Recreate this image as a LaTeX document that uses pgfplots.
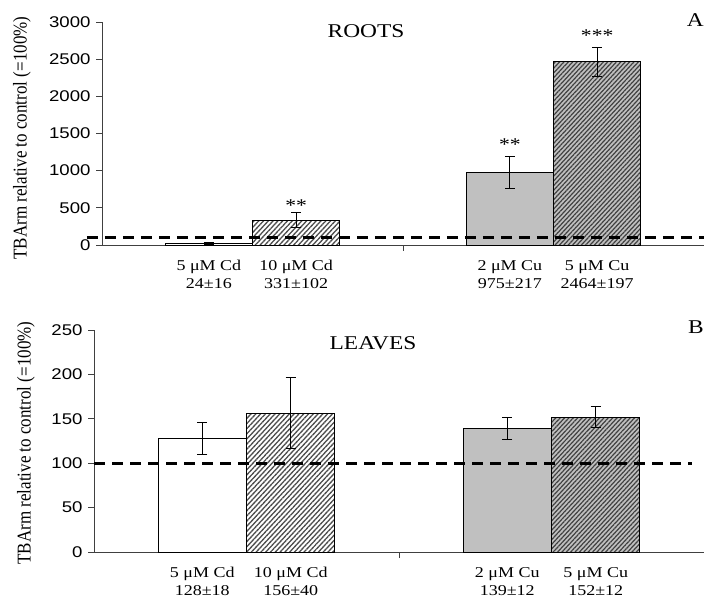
\documentclass[border=0pt]{standalone}
\usepackage{pgfplots}
\pgfplotsset{compat=1.18}
\usetikzlibrary{patterns.meta}
\usepackage{fontspec}
\setmainfont{Liberation Serif}[FakeStretch=1.2]
\newfontfamily\serifplain{Liberation Serif}
\newfontfamily\arial{Liberation Sans}[FakeStretch=1.2]
\definecolor{cugray}{RGB}{192,192,192}
\pgfplotsset{
  panel/.style={
    scale only axis,
    axis x line*=bottom, axis y line*=left,
    axis line style={-, draw=black!75, line width=0.9pt},
    xmin=0, xmax=2,
    xtick={1,2}, xticklabels={},
    tick align=outside,
    major tick length=6pt,
    tick style={draw=black!75, line width=0.9pt},
    yticklabel style={font=\arial\fontsize{15.5}{16}\selectfont, xshift=-2pt},
    /pgf/number format/assume math mode=true,
    /pgf/number format/1000 sep={},
    extra x ticks={0.355,0.645,1.355,1.645},
    extra x tick style={tick style={draw=none},
      xticklabel style={align=center, font=\fontsize{15}{18}\selectfont, yshift=-6pt}},
    clip=false,
  },
  errs/.style={error bars/.cd, y dir=both, y explicit,
    error bar style={line width=1pt, black},
    error mark options={rotate=90, line width=1pt, mark size=5pt, black}},
  barA/.style={ybar, bar width=0.289, bar shift=0pt, draw=black, line width=0.9pt, fill=white, errs},
  barB/.style={ybar, bar width=0.289, bar shift=0pt, draw=black, line width=0.9pt, fill=white,
    postaction={pattern={Lines[angle=47, distance=3.5pt, line width=1.3pt]}, pattern color=black!70}, errs},
  barC/.style={ybar, bar width=0.289, bar shift=0pt, draw=black, line width=0.9pt, fill=cugray, errs},
  barD/.style={ybar, bar width=0.289, bar shift=0pt, draw=black, line width=0.9pt, fill=cugray,
    postaction={pattern={Lines[angle=47, distance=3.2pt, line width=1.2pt]}, pattern color=black!75}, errs},
  ctrl/.style={black, line width=2.8pt, dash pattern=on 11pt off 7pt},
}
\begin{document}
\begin{tikzpicture}[x=1pt,y=1pt]
\useasboundingbox (0,0) rectangle (704,-601);
% ---------- A: ROOTS ----------
\begin{axis}[panel, at={(102pt,-245pt)}, anchor=south west,
  width=602pt, height=223pt, ymin=0, ymax=3000, ytick={0,500,...,3000},
  extra x tick labels={{5 μM Cd\\24±16},{10 μM Cd\\331±102},{2 μM Cu\\975±217},{5 μM Cu\\2464±197}}]
\addplot[barA] coordinates {(0.355,24) +- (0,16)};
\addplot[barB] coordinates {(0.645,331) +- (0,102)};
\addplot[barC] coordinates {(1.355,975) +- (0,217)};
\addplot[barD] coordinates {(1.645,2464) +- (0,197)};
\addplot[ctrl] coordinates {(-0.05,100) (2,100)};
\node[font=\fontsize{18}{18}\selectfont, yshift=-3pt] at (axis cs:0.645,565) {**};
\node[font=\fontsize{18}{18}\selectfont, yshift=-3pt] at (axis cs:1.355,1386) {**};
\node[font=\fontsize{18}{18}\selectfont, yshift=-3pt] at (axis cs:1.645,2852) {***};
\end{axis}
% ---------- B: LEAVES ----------
\begin{axis}[panel, at={(94pt,-552pt)}, anchor=south west,
  width=610pt, height=222pt, ymin=0, ymax=250, ytick={0,50,...,250},
  extra x tick labels={{5 μM Cd\\128±18},{10 μM Cd\\156±40},{2 μM Cu\\139±12},{5 μM Cu\\152±12}}]
\addplot[barA] coordinates {(0.355,128) +- (0,18)};
\addplot[barB] coordinates {(0.645,156) +- (0,40)};
\addplot[barC] coordinates {(1.355,139) +- (0,12)};
\addplot[barD] coordinates {(1.645,152) +- (0,12)};
\addplot[ctrl] coordinates {(0,100) (1.96,100)};
\end{axis}
% ---------- titles ----------
\node[font=\fontsize{19.5}{20}\selectfont] at (366,-31.5) {ROOTS};
\node[font=\fontsize{19.5}{20}\selectfont] at (373,-343) {LEAVES};
\node[font=\fontsize{19.5}{20}\selectfont, anchor=east, inner sep=0pt] at (704,-20) {A};
\node[font=\fontsize{19.5}{20}\selectfont, anchor=east, inner sep=0pt] at (704,-327) {B};
\node[rotate=90, font=\serifplain\fontsize{17}{17}\selectfont] at (22,-138) {\scalebox{1}[1.15]{TBArm relative to control (=100\%)}};
\node[rotate=90, font=\serifplain\fontsize{17}{17}\selectfont] at (26,-443) {\scalebox{1}[1.15]{TBArm relative to control (=100\%)}};
\end{tikzpicture}
\end{document}
